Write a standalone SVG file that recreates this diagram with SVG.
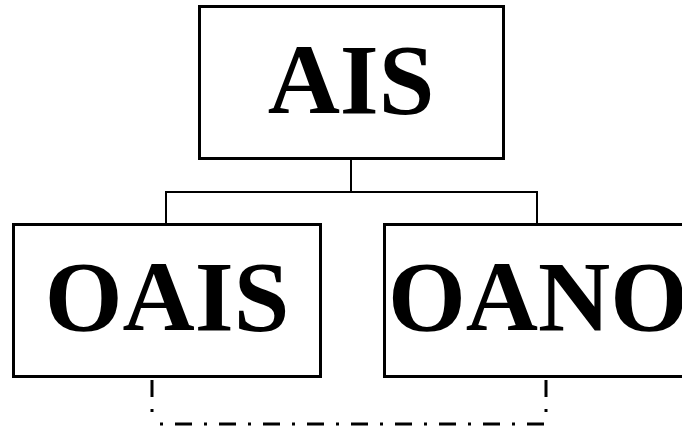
<svg xmlns="http://www.w3.org/2000/svg" width="682" height="430" viewBox="0 0 682 430">
<style>
.box{fill:#fff;stroke:#000;stroke-width:3}
.lbl{font-family:"Liberation Serif","Times New Roman",serif;font-weight:bold;font-size:100px;text-anchor:middle;fill:#000}
.tree{fill:none;stroke:#000;stroke-width:2}
.dd{fill:none;stroke:#000;stroke-width:3;stroke-dasharray:17 12 3 12}
</style>
<rect width="682" height="430" fill="#fff"/>
<g id="connectors">
<path class="tree" d="M351 160V192M166 224V192H537V224"/>
<path class="dd" d="M152 380V424"/>
<path class="dd" d="M546 380V424"/>
<path class="dd" d="M152 424H546" stroke-dashoffset="21"/>
</g>
<g id="ais">
<rect class="box" x="199.5" y="6.5" width="304" height="152"/>
<text class="lbl" x="351" y="113">AIS</text>
</g>
<g id="oais">
<rect class="box" x="13.5" y="224.5" width="307" height="152"/>
<text class="lbl" x="167" y="330">OAIS</text>
</g>
<g id="oano">
<rect class="box" x="384.5" y="224.5" width="307" height="152"/>
<text class="lbl" x="538" y="330">OANO</text>
</g>
</svg>
